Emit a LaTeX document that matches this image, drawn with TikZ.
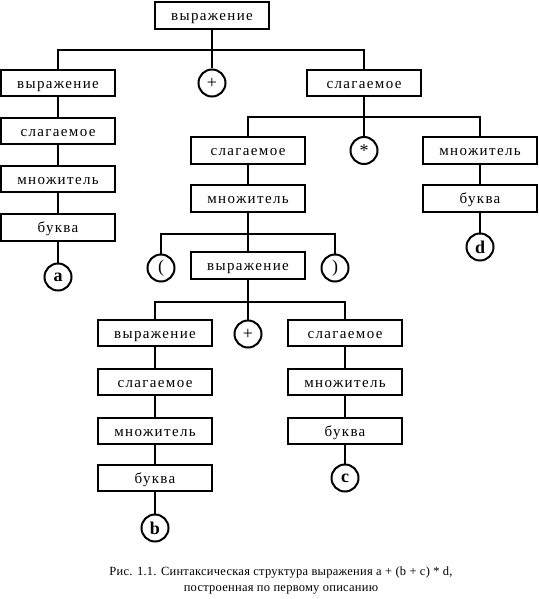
\documentclass[tikz,border=0pt]{standalone}
\usepackage{fontspec}
\setmainfont{Liberation Serif}
\newfontfamily\labelfont[LetterSpace=9]{Liberation Serif}
\newfontfamily\capfont[LetterSpace=2]{Liberation Serif}
\begin{document}
\begin{tikzpicture}[x=1pt,y=-1pt,
  box/.style={draw, line width=2pt, minimum width=114pt, minimum height=26.5pt, inner sep=0pt, text height=10.5pt, text depth=0pt, font=\labelfont\fontsize{15}{15}\selectfont},
  term/.style={draw, circle, line width=2pt, minimum size=27pt, inner sep=0pt, font=\fontsize{18}{18}\selectfont},
  lt/.style={term, font=\bfseries\fontsize{18}{18}\selectfont},
  link/.style={line width=2pt}]
\useasboundingbox (0,0) rectangle (538,599);
\node[box] (e0) at (212,15.5) {выражение};
\node[box] (e1) at (58,83) {выражение};
\node[term] (p1) at (212,83) {+};
\node[box] (t1) at (364,83) {слагаемое};
\node[box] (t2) at (58,131) {слагаемое};
\node[box] (m2) at (58,179) {множитель};
\node[box] (b2) at (58,227.5) {буква};
\node[lt] (a) at (58,277) {a};
\node[box] (t3) at (248,150.5) {слагаемое};
\node[term] (star) at (364,150.5) {*};
\node[box] (m3) at (480,150.5) {множитель};
\node[box] (m4) at (248,198.5) {множитель};
\node[box] (b3) at (480,198.5) {буква};
\node[lt] (d) at (480,247) {d};
\node[term] (lp) at (161,268) {(};
\node[box] (e2) at (248,265.5) {выражение};
\node[term] (rp) at (335,268) {)};
\node[box] (e3) at (155,333) {выражение};
\node[term] (p2) at (248,334) {+};
\node[box] (t4) at (345,333) {слагаемое};
\node[box] (t5) at (155,382) {слагаемое};
\node[box] (m5) at (155,431) {множитель};
\node[box] (b5) at (155,478) {буква};
\node[lt] (b) at (155,528) {b};
\node[box] (m6) at (345,382) {множитель};
\node[box] (b6) at (345,431) {буква};
\node[lt] (c) at (345,478) {c};
\coordinate (j1) at (212,50);
\coordinate (j2) at (364,117);
\coordinate (j3) at (248,234.3);
\coordinate (j4) at (248,302);
\draw[link] (e0) -- (p1);
\draw[link] (e1) |- (j1) -| (t1);
\draw[link] (e1) -- (t2);
\draw[link] (t2) -- (m2);
\draw[link] (m2) -- (b2);
\draw[link] (b2) -- (a);
\draw[link] (t1) -- (star);
\draw[link] (t3) |- (j2) -| (m3);
\draw[link] (m3) -- (b3);
\draw[link] (b3) -- (d);
\draw[link] (t3) -- (m4);
\draw[link] (m4) -- (e2);
\draw[link] (lp) |- (j3) -| (rp);
\draw[link] (e2) -- (p2);
\draw[link] (e3) |- (j4) -| (t4);
\draw[link] (e3) -- (t5);
\draw[link] (t5) -- (m5);
\draw[link] (m5) -- (b5);
\draw[link] (b5) -- (b);
\draw[link] (t4) -- (m6);
\draw[link] (m6) -- (b6);
\draw[link] (b6) -- (c);
\node[font=\capfont\fontsize{12.5}{16}\selectfont, align=center] (cap) at (281,581) {Рис. 1.1. Синтаксическая структура выражения a + (b + c) * d,\\построенная по первому описанию};
\end{tikzpicture}
\end{document}
